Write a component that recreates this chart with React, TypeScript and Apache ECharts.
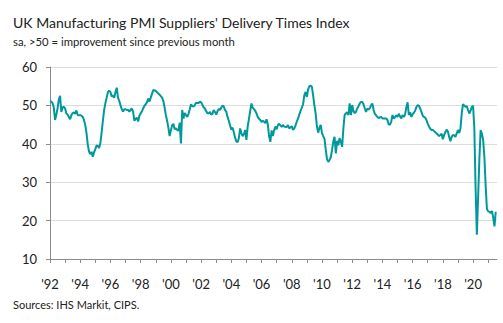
import React, { useEffect, useRef } from "react";
import * as echarts from "echarts";

const START_YEAR = 1992;

const v1992_1995 = [
  51.1, 51.0, 50.6, 49.5, 46.2, 47.5, 49.2, 51.5, 52.5, 48.3, 49.5, 49.6,
  49.2, 47.9, 47.6, 47.0, 46.4, 47.5, 48.0, 48.2, 47.8, 48.7, 47.5, 47.4,
  47.5, 47.3, 47.0, 46.2, 44.9, 42.8, 39.8, 38.0, 37.3, 37.9, 36.6, 37.8,
  38.6, 39.6, 39.4, 38.9, 40.2, 43.0, 46.0, 48.8, 50.6, 52.0, 53.5, 53.8,
];
const v1996_1999 = [
  53.5, 52.3, 52.6, 52.0, 53.5, 54.6, 52.0, 51.2, 50.0, 49.0, 48.4, 49.0,
  49.0, 48.8, 48.8, 48.4, 48.8, 49.2, 48.3, 46.0, 46.5, 46.8, 45.8, 47.3,
  47.9, 48.5, 49.2, 49.9, 50.3, 50.8, 51.8, 51.0, 52.0, 53.0, 54.0, 53.9,
  53.8, 53.4, 53.1, 52.8, 52.4, 52.0, 51.2, 49.5, 47.5, 46.0, 44.2, 42.0,
];
const v2000_2003 = [
  43.5, 44.8, 45.2, 43.8, 44.0, 43.6, 43.4, 45.5, 40.1, 48.8, 46.6, 48.0,
  47.5, 47.0, 47.8, 49.0, 50.3, 49.8, 49.7, 50.1, 50.7, 50.6, 50.6, 51.0,
  50.8, 50.2, 49.5, 49.2, 48.5, 48.0, 47.9, 48.3, 47.6, 47.8, 48.8, 48.3,
  47.6, 48.5, 49.1, 48.8, 49.4, 50.0, 49.7, 48.8, 48.4, 47.0, 46.0, 44.8,
];
const v2004_2007 = [
  43.7, 44.2, 43.0, 41.6, 40.6, 40.4, 41.5, 44.0, 42.8, 42.0, 42.5, 43.6,
  41.0, 44.5, 46.5, 48.5, 50.5, 49.4, 49.0, 48.6, 47.9, 47.0, 46.5, 46.2,
  45.7, 46.0, 45.8, 45.4, 46.4, 45.0, 42.0, 40.5, 43.5, 42.0, 43.5, 44.5,
  43.8, 44.9, 45.2, 44.8, 44.4, 44.9, 44.5, 44.4, 44.4, 44.9, 44.0, 44.3,
];
const v2008_2011 = [
  44.6, 43.6, 44.0, 44.8, 45.8, 46.6, 47.6, 48.6, 49.4, 50.3, 52.7, 53.5,
  52.2, 54.2, 55.0, 55.1, 54.8, 52.5, 50.0, 47.8, 44.5, 42.9, 44.2, 44.9,
  42.8, 42.0, 41.3, 38.5, 36.0, 35.3, 35.8, 36.5, 38.4, 40.6, 41.8, 37.5,
  40.8, 39.6, 41.5, 40.5, 39.2, 44.0, 47.5, 47.9, 48.2, 47.5, 50.5, 47.5,
];
const v2012_2015 = [
  50.1, 48.5, 48.0, 48.3, 49.2, 49.8, 50.5, 50.9, 50.9, 50.3, 49.2, 48.3,
  49.2, 48.9, 49.3, 50.0, 50.5, 48.8, 47.8, 47.4, 47.0, 46.7, 46.9, 47.0,
  46.6, 46.6, 46.6, 46.6, 46.2, 45.0, 45.0, 45.7, 47.5, 46.6, 46.9, 47.4,
  47.0, 47.8, 47.2, 46.6, 47.5, 47.0, 47.6, 49.5, 50.8, 47.5, 48.2, 47.0,
];
const v2016_2019 = [
  47.7, 48.1, 48.6, 49.6, 50.1, 49.9, 49.2, 48.3, 47.3, 47.0, 46.8, 46.2,
  45.2, 44.5, 43.9, 43.6, 43.6, 43.3, 43.0, 42.7, 42.4, 42.0, 42.3, 42.6,
  41.2, 42.3, 43.0, 43.7, 43.2, 41.8, 40.7, 41.8, 42.3, 42.2, 41.8, 42.7,
  43.6, 42.8, 44.0, 48.0, 50.3, 50.0, 49.6, 49.8, 48.8, 47.9, 48.6, 49.6,
];
const v2020_2021 = [
  49.9, 44.0, 28.5, 16.3, 26.0, 36.0, 43.6, 42.6, 41.0, 36.5, 29.0, 23.0,
  22.4, 22.3, 22.0, 22.5, 20.8, 18.5, 22.3,
];

const values: (number | null)[] = [
  ...v1992_1995,
  ...v1996_1999,
  ...v2000_2003,
  ...v2004_2007,
  ...v2008_2011,
  ...v2012_2015,
  ...v2016_2019,
  ...v2020_2021,
  null,
];

const months: string[] = values.map((_, i) => {
  const y = START_YEAR + Math.floor(i / 12);
  const m = (i % 12) + 1;
  return `${y}-${m < 10 ? "0" + m : m}`;
});

const yTicks = [10, 20, 30, 40, 50, 60];

const TITLE = "UK Manufacturing PMI Suppliers' Delivery Times Index";
const SUBTITLE = "sa, >50 = improvement since previous month";
const SOURCE = "Sources: IHS Markit, CIPS.";

const FONT = "Lato, 'Noto Sans', sans-serif";

export default function App() {
  const ref = useRef<HTMLDivElement>(null);
  useEffect(() => {
    if (!ref.current) return;
    const chart = echarts.init(ref.current, undefined, { renderer: "svg" });
    chart.setOption({
      animation: false,
      backgroundColor: "#ffffff",
      textStyle: { fontFamily: FONT },
      grid: { left: 50, right: 6, top: 67, bottom: 64, containLabel: false },
      xAxis: {
        type: "category",
        data: months,
        boundaryGap: false,
        axisLine: { show: true, lineStyle: { color: "#8c8c8c", width: 1 } },
        axisTick: {
          show: true,
          length: 4,
          interval: (idx: number) => idx % 12 === 0,
          lineStyle: { color: "#8c8c8c" },
        },
        axisLabel: {
          interval: (idx: number) => idx % 24 === 0,
          formatter: (v: string) => "'" + v.slice(2, 4),
          color: "#222",
          fontSize: 13,
          fontFamily: FONT,
          margin: 18,
        },
        splitLine: { show: false },
      },
      yAxis: {
        type: "value",
        min: yTicks[0],
        max: yTicks[yTicks.length - 1],
        interval: 10,
        axisLine: { show: true, lineStyle: { color: "#8c8c8c", width: 1 } },
        axisTick: { show: true, length: 4, lineStyle: { color: "#8c8c8c" } },
        axisLabel: { color: "#222", fontSize: 13, fontFamily: FONT, margin: 13 },
        splitLine: { show: true, lineStyle: { color: "#dcdcdc", width: 1 } },
      },
      series: [
        {
          type: "line",
          data: values,
          showSymbol: false,
          symbol: "none",
          connectNulls: false,
          lineStyle: { color: "#00999b", width: 2 },
          itemStyle: { color: "#00999b" },
        },
      ],
      graphic: [
        {
          type: "text",
          x: 13,
          y: 22,
          style: {
            text: TITLE,
            fill: "#222",
            fontSize: 14,
            fontFamily: FONT,
            verticalAlign: "middle",
            align: "left",
          },
        },
        {
          type: "text",
          x: 13,
          y: 41,
          style: {
            text: SUBTITLE,
            fill: "#222",
            fontSize: 11.3,
            fontFamily: FONT,
            verticalAlign: "middle",
            align: "left",
          },
        },
        {
          type: "text",
          x: 13,
          y: 304,
          style: {
            text: SOURCE,
            fill: "#222",
            fontSize: 11,
            fontFamily: FONT,
            verticalAlign: "middle",
            align: "left",
          },
        },
      ],
    });
    return () => chart.dispose();
  }, []);
  return (
    <div
      ref={ref}
      style={{ position: "fixed", left: 0, top: 0, width: 503, height: 323 }}
    />
  );
}
